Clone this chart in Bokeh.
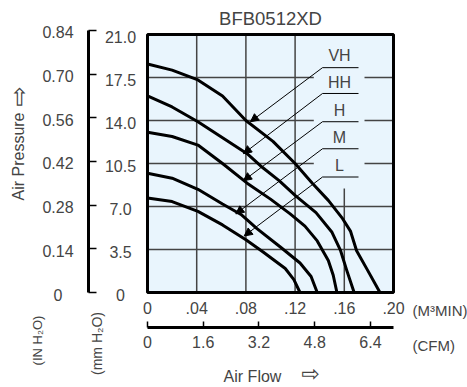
import math
from bokeh.plotting import figure
from bokeh.models import (Range1d, LinearAxis, FixedTicker, ColumnDataSource, LabelSet,
                          Label, Arrow, NormalHead)
from bokeh.core.properties import value
from bokeh.embed import file_html
from bokeh.resources import INLINE

# ---------------- data ----------------
TITLE = "BFB0512XD"

flow_ticks = [0, 0.04, 0.08, 0.12, 0.16, 0.2]
flow_labels = ["0", ".04", ".08", ".12", ".16", ".20"]
cfm_ticks = [0, 1.6, 3.2, 4.8, 6.4]
cfm_labels = ["0", "1.6", "3.2", "4.8", "6.4"]
mm_ticks = [0, 3.5, 7.0, 10.5, 14.0, 17.5, 21.0]
mm_labels = ["0", "3.5", "7.0", "10.5", "14.0", "17.5", "21.0"]
in_ticks = [0, 0.14, 0.28, 0.42, 0.56, 0.70, 0.84]
in_labels = ["0", "0.14", "0.28", "0.42", "0.56", "0.70", "0.84"]

curve_names = ["VH", "HH", "H", "M", "L"]

vh_x = [0, 0.020, 0.041, 0.061, 0.080, 0.102, 0.120, 0.134, 0.147, 0.158, 0.165, 0.170, 0.179, 0.189]
vh_y = [18.6, 18.1, 17.3, 16.0, 14.0, 12.3, 10.5, 8.9, 7.5, 6.1, 5.0, 3.4, 1.8, 0]

hh_x = [0, 0.020, 0.041, 0.061, 0.081, 0.092, 0.107, 0.120, 0.137, 0.150, 0.157, 0.162, 0.168]
hh_y = [16.0, 15.1, 13.9, 12.6, 11.3, 10.3, 9.1, 7.9, 6.5, 4.9, 3.4, 1.8, 0]

h_x = [0, 0.020, 0.041, 0.061, 0.081, 0.100, 0.116, 0.128, 0.138, 0.147, 0.151, 0.154]
h_y = [13.05, 12.7, 12.0, 10.5, 8.9, 7.6, 6.4, 5.4, 4.2, 2.6, 1.4, 0]

m_x = [0, 0.020, 0.041, 0.061, 0.076, 0.089, 0.108, 0.124, 0.133, 0.138]
m_y = [9.7, 9.3, 8.4, 7.2, 6.35, 5.2, 3.7, 2.4, 1.3, 0]

l_x = [0, 0.020, 0.041, 0.061, 0.080, 0.094, 0.112, 0.119, 0.124]
l_y = [7.7, 7.4, 6.6, 5.5, 4.3, 3.3, 1.95, 1.05, 0]

# callout labels: text level, underline level, arrow tip on each curve
name_y = [19.3, 17.1, 14.8, 12.6, 10.3]
underline_y = [18.3, 16.2, 13.9, 11.7, 9.4]
tip_x = [0.0837, 0.078, 0.078, 0.0718, 0.0786]
tip_y = [13.9, 11.3, 9.1, 6.4, 4.6]

CFM_PER_M3MIN = 35.3147
MM_PER_IN = 25.4

FONT = "Liberation Sans"
BG = "#e9f5fd"
GRID = "#444444"

# ---------------- canvas geometry ----------------
W, H = 467, 387
BOX_L, BOX_R, BOX_T, BOX_B = 147, 393, 34, 292      # chart box in canvas pixels
XMAX, YMAX = flow_ticks[-1], mm_ticks[-1]
sx = (BOX_R - BOX_L) / XMAX
sy = (BOX_B - BOX_T) / YMAX


def X(px):
    return (px - BOX_L) / sx


def Y(py):
    return (BOX_B - py) / sy


p = figure(width=W, height=H,
           x_range=Range1d(X(0), X(W)), y_range=Range1d(Y(H), Y(0)),
           x_axis_type=None, y_axis_type=None,
           output_backend="svg", toolbar_location=None, min_border=0)
p.min_border_left = p.min_border_right = p.min_border_top = p.min_border_bottom = 0
p.extra_x_ranges = {"cfm": Range1d(X(0) * CFM_PER_M3MIN, X(W) * CFM_PER_M3MIN)}
p.extra_y_ranges = {"inch": Range1d(Y(H) / MM_PER_IN, Y(0) / MM_PER_IN)}
p.background_fill_color = "white"
p.border_fill_color = "white"
p.outline_line_color = None

# ---------------- chart box, grid ----------------
p.quad(left=0, right=XMAX, bottom=0, top=YMAX, fill_color=BG, line_color=None)

gx = flow_ticks[1:-1]
p.segment(x0=gx, x1=gx, y0=[0] * len(gx), y1=[YMAX] * len(gx),
          line_color=GRID, line_width=1.5)
gy = mm_ticks[1:-1]
p.segment(x0=[0] * len(gy), x1=[XMAX] * len(gy), y0=gy, y1=gy,
          line_color=GRID, line_width=1.5)

# background patch behind the callout labels (interrupts the grid)
p.quad(left=X(313.3), right=X(364), bottom=Y(188), top=YMAX,
       fill_color=BG, line_color=None)

# ---------------- curves ----------------
for xs, ys in [(vh_x, vh_y), (hh_x, hh_y), (h_x, h_y), (m_x, m_y), (l_x, l_y)]:
    p.line(xs, ys, line_width=3, line_color="black", line_join="round")

# box outline on top
p.quad(left=0, right=XMAX, bottom=0, top=YMAX, fill_color=None,
       line_color="black", line_width=3)

# ---------------- callouts ----------------
ul_x0 = [X(322)] * len(curve_names)
ul_x1 = [X(358)] * len(curve_names)
p.segment(x0=ul_x0, x1=ul_x1, y0=underline_y, y1=underline_y,
          line_color="black", line_width=1)

p.add_layout(Arrow(end=NormalHead(size=8, fill_color="black", line_color="black", line_width=1),
                   source=ColumnDataSource(dict(x0=ul_x0, y0=underline_y, x1=tip_x, y1=tip_y)),
                   x_start="x0", y_start="y0", x_end="x1", y_end="y1",
                   line_color="black", line_width=1))

p.add_layout(LabelSet(x=X(339), y="y", text="text",
                      source=ColumnDataSource(dict(y=name_y, text=curve_names)),
                      text_align="center", text_baseline="middle",
                      text_font=value(FONT), text_font_size=value("16px")))

# ---------------- axes ----------------
ax_flow = LinearAxis(fixed_location=0, bounds=(0, XMAX),
                     ticker=FixedTicker(ticks=flow_ticks),
                     major_label_overrides=dict(zip(flow_ticks, flow_labels)),
                     axis_line_color=None, major_tick_line_color=None,
                     minor_tick_line_color=None, major_tick_in=0, major_tick_out=0,
                     major_label_standoff=9,
                     major_label_text_font=FONT, major_label_text_font_size="16px")
p.add_layout(ax_flow, "below")

ax_cfm = LinearAxis(x_range_name="cfm", fixed_location=Y(327),
                    bounds=(0, XMAX * CFM_PER_M3MIN),
                    ticker=FixedTicker(ticks=cfm_ticks),
                    major_label_overrides=dict(zip(cfm_ticks, cfm_labels)),
                    axis_line_width=3, axis_line_color="black",
                    major_tick_in=6, major_tick_out=0, major_tick_line_width=1.5,
                    minor_tick_line_color=None,
                    major_label_standoff=8,
                    major_label_text_font=FONT, major_label_text_font_size="16px")
p.add_layout(ax_cfm, "below")

ax_in = LinearAxis(y_range_name="inch", fixed_location=X(88),
                   bounds=(0, in_ticks[-1]),
                   ticker=FixedTicker(ticks=in_ticks),
                   axis_line_width=3, axis_line_color="black",
                   major_tick_in=8, major_tick_out=0, major_tick_line_width=1.5,
                   minor_tick_line_color=None,
                   major_label_text_color=None, major_label_text_font_size="0px")
p.add_layout(ax_in, "left")

# centred tick labels of the two pressure scales
p.add_layout(LabelSet(x=X(57.5), y="y", text="text", y_range_name="inch",
                      source=ColumnDataSource(dict(y=in_ticks, text=in_labels)),
                      text_align="center", text_baseline="middle", y_offset=-2,
                      text_font=value(FONT), text_font_size=value("16px")))
p.add_layout(LabelSet(x=X(120), y="y", text="text",
                      source=ColumnDataSource(dict(y=mm_ticks, text=mm_labels)),
                      text_align="center", text_baseline="middle", y_offset=-2,
                      text_font=value(FONT), text_font_size=value("16px")))


# ---------------- other texts ----------------
def add_label(px, py, text, size, angle=0.0, align="center", font=FONT):
    p.add_layout(Label(x=X(px), y=Y(py), text=text, angle=angle, text_align=align,
                       text_baseline="middle", text_font=font, text_font_size=size))


add_label(270, 18, TITLE, "18.5px")
add_label(18, 156, "Air Pressure", "16px", angle=math.pi / 2)
add_label(18, 96, "\u21e8", "24px", angle=math.pi / 2, font="DejaVu Sans")
add_label(37, 340, "(IN H\u2082O)", "13px", angle=math.pi / 2)
add_label(96, 343, "(mm H\u2082O)", "14px", angle=math.pi / 2)
add_label(412, 310, "(M\u00b3MIN)", "15px", align="left")
add_label(412, 345, "(CFM)", "15px", align="left")
add_label(252, 376, "Air Flow", "16px")
add_label(310, 373, "\u21e8", "22px", font="DejaVu Sans")

open("out.html", "w").write(file_html(p, INLINE))
